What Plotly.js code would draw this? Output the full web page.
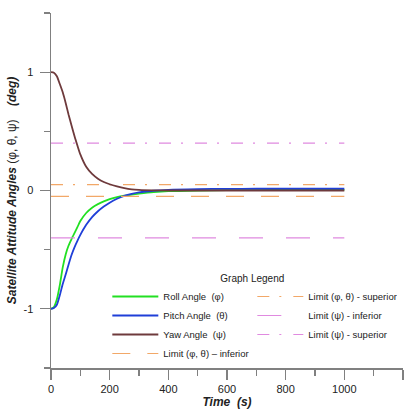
<!DOCTYPE html>
<html>
<head>
<meta charset="utf-8">
<script src="https://cdn.plot.ly/plotly-3.0.1.min.js"></script>
<style>
html,body{margin:0;padding:0;background:#fff;}
#chart{width:414px;height:410px;}
</style>
</head>
<body>
<div id="chart"></div>
<script>
// time grid (s)
const time = [0,10,20,30,40,50,60,70,80,90,100,120,140,160,180,200,225,250,275,300,350,400,500,600,700,800,900,1000];
// Roll angle phi (deg)
const roll = [-1,-0.985,-0.92,-0.80,-0.65,-0.54,-0.465,-0.41,-0.36,-0.31,-0.258,-0.19,-0.145,-0.115,-0.092,-0.073,-0.056,-0.044,-0.035,-0.027,-0.014,-0.006,0,0.003,0.004,0.005,0.005,0.005];
// Pitch angle theta (deg)
const pitch = [-1,-0.993,-0.965,-0.885,-0.79,-0.71,-0.625,-0.545,-0.48,-0.425,-0.375,-0.29,-0.225,-0.175,-0.135,-0.103,-0.07,-0.045,-0.028,-0.016,-0.002,0.006,0.012,0.014,0.015,0.015,0.015,0.015];
// Yaw angle psi (deg)
const yaw = [1,0.995,0.965,0.90,0.83,0.74,0.64,0.55,0.46,0.38,0.305,0.20,0.14,0.10,0.072,0.053,0.035,0.02,0.01,0.005,0.001,0,0,0,0,0,0,0];
// limits
const limitTime = [0,1000];
const limPhiThetaSup = [0.05,0.05];
const limPhiThetaInf = [-0.05,-0.05];
const limPsiSup = [0.4,0.4];
const limPsiInf = [-0.4,-0.4];

const xTickVals = [0,200,400,600,800,1000,1200];
const yTickVals = [-1,0,1];

const FONT = 'Liberation Sans, Arial, sans-serif';
const ORANGE = '#f2a868';
const PINK = '#e08ae0';
const DASHDOT = '12px,10px,2px,12px';

const traces = [
  {name:'Roll Angle  (φ)', x:time, y:roll, mode:'lines', line:{color:'#22e022', width:1.8}},
  {name:'Limit (φ, θ) - superior', x:limitTime, y:limPhiThetaSup, mode:'lines', line:{color:ORANGE, width:1.2, dash:DASHDOT}},
  {name:'Pitch Angle  (θ)', x:time, y:pitch, mode:'lines', line:{color:'#1f3fd8', width:1.8}},
  {name:'Limit (ψ) - inferior', x:limitTime, y:limPsiInf, mode:'lines', line:{color:PINK, width:1.2, dash:'24px,23px'}},
  {name:'Yaw Angle  (ψ)', x:time, y:yaw, mode:'lines', line:{color:'#6e3a3c', width:1.8}},
  {name:'Limit (ψ) - superior', x:limitTime, y:limPsiSup, mode:'lines', line:{color:PINK, width:1.2, dash:DASHDOT}},
  {name:'Limit (φ, θ) – inferior', x:limitTime, y:limPhiThetaInf, mode:'lines', line:{color:ORANGE, width:1.2, dash:'18px,17px'}}
];
traces.forEach(t => { if (t.x === time) { t.line.shape = 'spline'; t.line.smoothing = 0.6; } });

const layout = {
  width:414, height:410,
  margin:{l:51, r:11, t:13, b:42},
  paper_bgcolor:'#fff', plot_bgcolor:'#fff',
  font:{family:FONT, size:11, color:'#333'},
  showlegend:true,
  legend:{
    orientation:'h', x:0.16, y:0, xanchor:'left', yanchor:'bottom',
    entrywidth:84, itemwidth:46, traceorder:'normal',
    bgcolor:'rgba(0,0,0,0)', borderwidth:0,
    font:{family:FONT, size:9.5, color:'#222'},
    title:{text:'Graph Legend', side:'top center', font:{family:FONT, size:10, color:'#222'}},
    tracegroupgap:0
  },
  xaxis:{
    range:[0,1200], showgrid:false, zeroline:false,
    showline:true, linecolor:'#808080', linewidth:1.5,
    ticks:'outside', ticklen:10, tickwidth:1.2, tickcolor:'#808080',
    tickvals:xTickVals, ticktext:xTickVals.map(String),
    minor:{dtick:100, tick0:0, ticks:'outside', ticklen:6, tickwidth:1.2, tickcolor:'#808080', showgrid:false},
    tickfont:{family:FONT, size:11, color:'#222'},
    title:{text:'<b><i>Time&nbsp;&nbsp;(s)</i></b>', font:{family:FONT, size:12, color:'#222'}, standoff:2}
  },
  yaxis:{
    range:[-1.5,1.5], showgrid:false, zeroline:false,
    showline:true, linecolor:'#808080', linewidth:1.5,
    ticks:'outside', ticklen:10, tickwidth:1.2, tickcolor:'#808080',
    tickvals:yTickVals, ticktext:yTickVals.map(String),
    minor:{dtick:0.5, tick0:0, ticks:'outside', ticklen:6, tickwidth:1.2, tickcolor:'#808080', showgrid:false},
    tickfont:{family:FONT, size:11, color:'#222'},
    ticklabelstandoff:4,
    title:{text:'<b><i>Satellite Attitude Angles</i></b> (φ, θ, ψ)&nbsp;&nbsp;&nbsp;&nbsp;<b><i>(deg)</i></b>', font:{family:FONT, size:12, color:'#222'}, standoff:4}
  }
};

Plotly.newPlot('chart', traces, layout, {displayModeBar:false, staticPlot:true});
</script>
</body>
</html>
